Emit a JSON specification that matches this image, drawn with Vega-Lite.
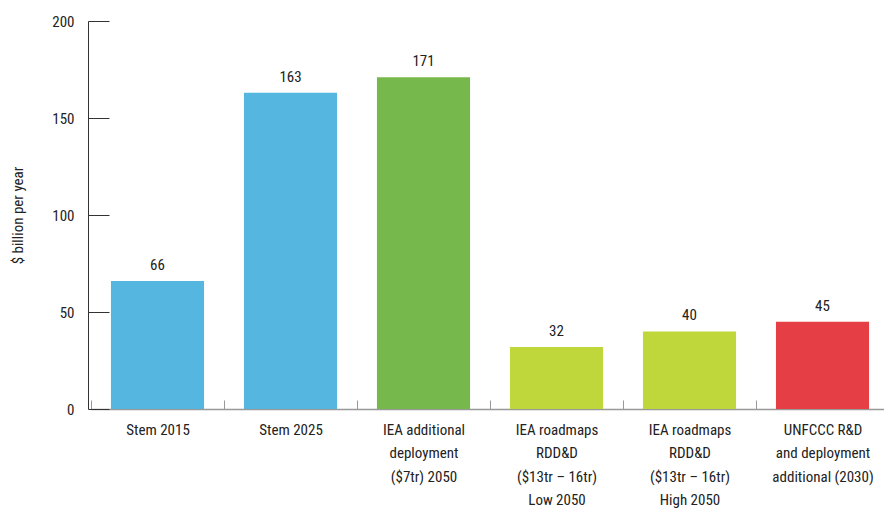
{
  "$schema": "https://vega.github.io/schema/vega-lite/v6.json",
  "width": 798,
  "height": 388,
  "autosize": "none",
  "padding": {"left": 91, "top": 21, "right": 0, "bottom": 103},
  "background": "white",
  "config": {
    "view": {"stroke": null},
    "font": "Liberation Sans Narrow, Roboto Condensed, Roboto, sans-serif",
    "text": {"font": "Liberation Sans Narrow, Roboto Condensed, Roboto, sans-serif"},
    "axis": {"labelFont": "Liberation Sans Narrow, Roboto Condensed, Roboto, sans-serif", "titleFont": "Liberation Sans Narrow, Roboto Condensed, Roboto, sans-serif"}
  },
  "data": {
    "values": [
      {"category": "Stem 2015", "value": 66, "group": "stem"},
      {"category": "Stem 2025", "value": 163, "group": "stem"},
      {"category": "IEA additional|deployment|($7tr) 2050", "value": 171, "group": "iea"},
      {"category": "IEA roadmaps|RDD&D|($13tr – 16tr)|Low 2050", "value": 32, "group": "roadmap"},
      {"category": "IEA roadmaps|RDD&D|($13tr – 16tr)|High 2050", "value": 40, "group": "roadmap"},
      {"category": "UNFCCC R&D|and deployment|additional (2030)", "value": 45, "group": "unfccc"}
    ]
  },
  "encoding": {
    "x": {
      "field": "category",
      "type": "nominal",
      "sort": null,
      "scale": {"paddingInner": 0, "paddingOuter": 0},
      "axis": {
        "title": null,
        "labelAngle": 0,
        "labelExpr": "datum.value ? split(datum.value, '|') : ''",
        "labelFontSize": 15,
        "labelColor": "#222222",
        "labelLineHeight": 23.5,
        "labelPadding": 22,
        "labelBaseline": "top",
        "tickBand": "extent",
        "tickSize": -9,
        "tickColor": "#999999",
        "domainColor": "#999999",
        "domainWidth": 1.5,
        "grid": false
      }
    },
    "y": {
      "field": "value",
      "type": "quantitative",
      "scale": {"domain": [0, 200], "nice": false},
      "axis": {
        "title": "$ billion per year",
        "titleFontSize": 15,
        "titleFontWeight": "normal",
        "titleColor": "#222222",
        "titlePadding": 26,
        "values": [0, 50, 100, 150, 200],
        "labelFontSize": 15,
        "labelColor": "#222222",
        "labelPadding": 35,
        "tickSize": -21,
        "tickColor": "#333333",
        "domainColor": "#333333",
        "offset": 3,
        "grid": false
      }
    }
  },
  "layer": [
    {
      "mark": {"type": "bar", "width": {"band": 0.7}},
      "encoding": {
        "color": {
          "field": "group",
          "type": "nominal",
          "scale": {
            "domain": ["stem", "iea", "roadmap", "unfccc"],
            "range": ["#55b7df", "#76b84b", "#bfd73b", "#e53e45"]
          },
          "legend": null
        }
      }
    },
    {
      "mark": {"type": "text", "baseline": "bottom", "dy": -8, "fontSize": 15, "color": "#222222"},
      "encoding": {"text": {"field": "value", "type": "quantitative"}}
    }
  ]
}
